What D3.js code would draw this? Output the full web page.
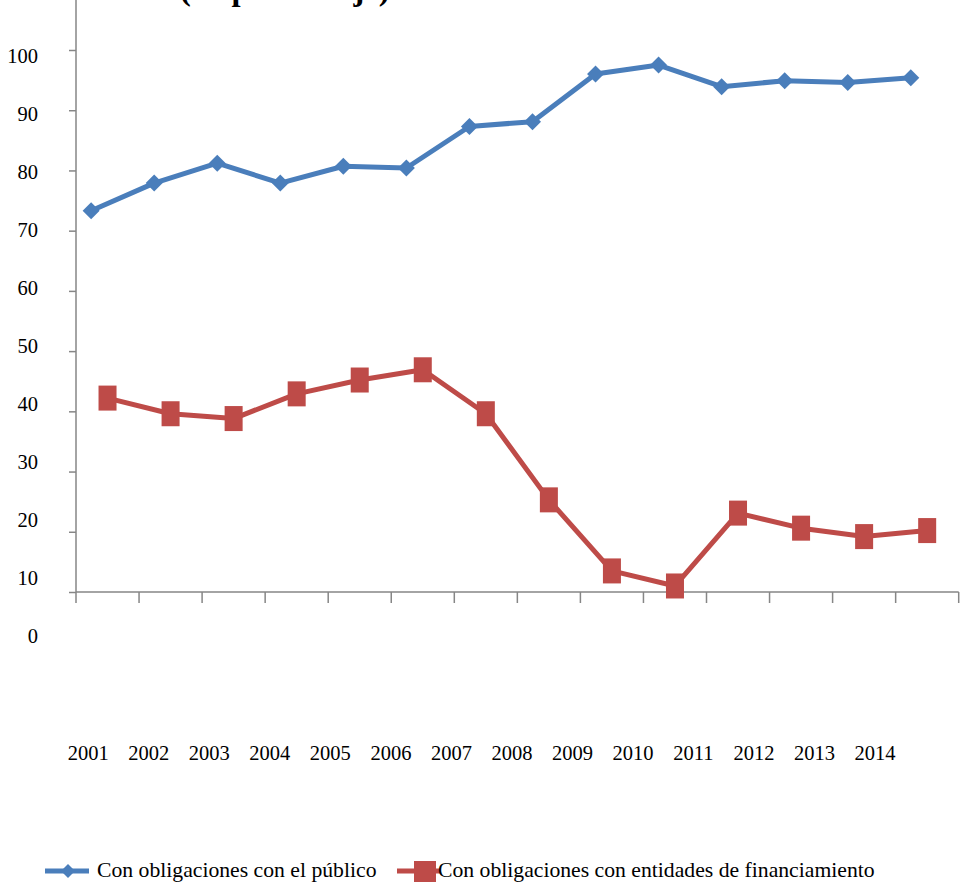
<!DOCTYPE html>
<html>
<head>
<meta charset="utf-8">
<script src="https://cdn.jsdelivr.net/npm/d3@7/dist/d3.min.js"></script>
<style>
  html, body { margin: 0; padding: 0; background: #ffffff; }
  svg { display: block; }
  text { font-family: "Liberation Serif", "Times New Roman", serif; fill: #000; }
</style>
</head>
<body>
<svg id="chart" width="964" height="882"></svg>
<script>
// Categories and series
const years = ["2001","2002","2003","2004","2005","2006","2007","2008","2009","2010","2011","2012","2013","2014"];
const publico = [73.3, 77.9, 81.2, 77.9, 80.7, 80.4, 87.3, 88.1, 96.0, 97.5, 93.9, 94.9, 94.6, 95.4];
const entidades = [42.2, 39.6, 38.8, 42.9, 45.2, 46.9, 39.6, 25.3, 13.5, 11.0, 23.1, 20.6, 19.2, 20.2];
const seriesNames = ["Con obligaciones con el público", "Con obligaciones con entidades de financiamiento"];
const yTickLabels = [0, 10, 20, 30, 40, 50, 60, 70, 80, 90, 100];
const yTickValues = [10, 20, 30, 40, 50, 60, 70, 80, 90, 100];
const subtitle = "(en porcentaje)";

const BLUE = "#4a7ebb";
const RED = "#be4b48";
const AXIS = "#868686";

const svg = d3.select("#chart");

// Scales for the plot area
const x = d3.scaleBand().domain(years).range([76, 958.7]).paddingInner(0).paddingOuter(0);
const y = d3.scaleLinear().domain([10, 100]).range([592, 50]);

// Tick-label layout (labels sit on their own slightly tighter spacing)
const yLabelPos = d3.scaleLinear().domain([0, 100]).range([643.3, 63]);
const xLabelPos = d3.scalePoint().domain(years).range([88.3, 875]);

// Subtitle, running off the top edge
svg.append("text")
  .attr("x", 180).attr("y", 0)
  .attr("font-size", 32.5).attr("font-weight", "bold")
  .text(subtitle);

// Y axis ticks
const yAxis = d3.axisLeft(y).tickValues(yTickValues).tickSize(7).tickFormat("");
const gy = svg.append("g").attr("transform", "translate(76,0)").call(yAxis);
gy.select(".domain").remove();
gy.selectAll(".tick line").attr("stroke", AXIS).attr("stroke-width", 1.5);
svg.append("line")
  .attr("x1", 76).attr("x2", 76).attr("y1", 0).attr("y2", y(10))
  .attr("stroke", AXIS).attr("stroke-width", 1.5);

// X axis line and category boundary ticks
const xEnd = x.range()[1];
svg.append("line")
  .attr("x1", 76).attr("x2", xEnd).attr("y1", y(10)).attr("y2", y(10))
  .attr("stroke", AXIS).attr("stroke-width", 1.5);
const boundaries = years.map(d => x(d)).concat([xEnd]);
svg.append("g").selectAll("line").data(boundaries).join("line")
  .attr("x1", d => d).attr("x2", d => d)
  .attr("y1", y(10)).attr("y2", y(10) + 11)
  .attr("stroke", AXIS).attr("stroke-width", 1.5);

// Y tick labels
svg.append("g").selectAll("text").data(yTickLabels).join("text")
  .attr("x", 38).attr("y", d => yLabelPos(d))
  .attr("text-anchor", "end").attr("font-size", 20.5)
  .text(d => d);

// X tick labels
svg.append("g").selectAll("text").data(years).join("text")
  .attr("x", d => xLabelPos(d)).attr("y", 760)
  .attr("text-anchor", "middle").attr("font-size", 20.5)
  .text(d => d);

// Series positions within each category
const bw = x.bandwidth();
const xPub = d => x(d) + bw * 0.24;
const xEnt = d => x(d) + bw * 0.5;

const line = d3.line();

// Series 1: público (diamonds)
svg.append("path")
  .datum(years.map((d, i) => [xPub(d), y(publico[i])]))
  .attr("d", line)
  .attr("fill", "none").attr("stroke", BLUE).attr("stroke-width", 5)
  .attr("stroke-linejoin", "round");
const diamond = (cx, cy, r) => `M${cx},${cy - r}L${cx + r},${cy}L${cx},${cy + r}L${cx - r},${cy}Z`;
svg.append("g").selectAll("path").data(years).join("path")
  .attr("d", (d, i) => diamond(xPub(d), y(publico[i]), 8.5))
  .attr("fill", BLUE);

// Series 2: entidades (squares)
svg.append("path")
  .datum(years.map((d, i) => [xEnt(d), y(entidades[i])]))
  .attr("d", line)
  .attr("fill", "none").attr("stroke", RED).attr("stroke-width", 5)
  .attr("stroke-linejoin", "round");
svg.append("g").selectAll("rect").data(years).join("rect")
  .attr("x", d => xEnt(d) - 9).attr("y", (d, i) => y(entidades[i]) - 12.5)
  .attr("width", 18).attr("height", 25)
  .attr("fill", RED);

// Legend
const legY = 871;
const leg = svg.append("g");
leg.append("line").attr("x1", 45).attr("x2", 89).attr("y1", legY).attr("y2", legY)
  .attr("stroke", BLUE).attr("stroke-width", 5);
leg.append("path").attr("d", diamond(68, legY, 7)).attr("fill", BLUE);
leg.append("text").attr("x", 97).attr("y", 877).attr("font-size", 21.7).text(seriesNames[0]);

leg.append("line").attr("x1", 397).attr("x2", 440).attr("y1", legY).attr("y2", legY)
  .attr("stroke", RED).attr("stroke-width", 5);
leg.append("rect").attr("x", 414).attr("y", legY - 10).attr("width", 22).attr("height", 22).attr("fill", RED);
leg.append("text").attr("x", 438).attr("y", 877).attr("font-size", 21.7).text(seriesNames[1]);
</script>
</body>
</html>
